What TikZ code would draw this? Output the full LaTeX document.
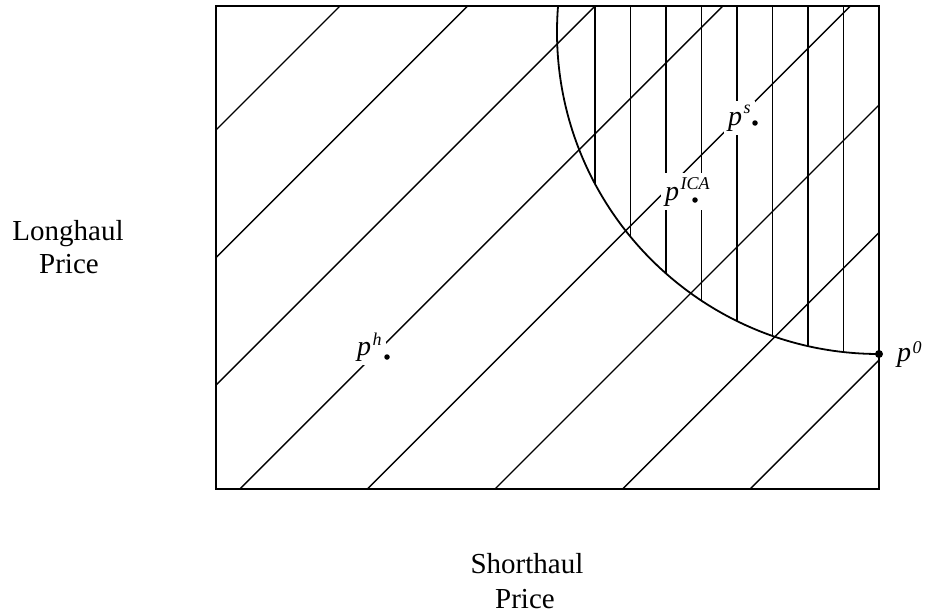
\documentclass[tikz,border=0pt]{standalone}
\usepackage{fontspec}
\setmainfont{Liberation Serif}
\newcommand\mysup[2]{\kern1.5pt\raisebox{#1pt}{\fontsize{18}{18}\selectfont\textit{#2}}}
\begin{document}
\begin{tikzpicture}[x=1pt,y=-1pt,
  hatch/.style={line width=1.4pt},
  vhatch/.style={line width=1.2pt},
  frame/.style={line width=1.8pt},
  curve/.style={line width=1.8pt},
  axislabel/.style={font=\fontsize{29}{33}\selectfont, inner sep=0pt, anchor=base},
  plabel/.style={fill=white, inner sep=4pt, anchor=base west, font=\fontsize{28}{28}\selectfont},
  pdot/.style={circle, fill=black, inner sep=0pt, minimum size=5.5pt}]
\useasboundingbox (0,0) rectangle (930,616);
\coordinate (bl) at (216,489);
\coordinate (tr) at (879,6);
\coordinate (cc) at (879,32);
% diagonal hatching
\begin{scope}
  \clip (bl) rectangle (tr);
  \foreach \k in {0,...,7} {
    \pgfmathsetmacro\c{346+127.6*\k}
    \draw[hatch] (\c-489,489) -- (\c-6,6);
  }
\end{scope}
% vertical hatching
\begin{scope}
  \clip (bl) rectangle (tr);
  \clip (cc) circle[radius=322pt];
  \foreach \k in {0,...,7} {
    \draw[vhatch] ({595+35.5*\k},6) -- ({595+35.5*\k},489);
  }
\end{scope}
% curve
\begin{scope}
  \clip (bl) rectangle (tr);
  \draw[curve] (cc) circle[radius=322pt];
\end{scope}
% frame
\draw[frame] (bl) rectangle (tr);
% labels
\node[plabel] (ph) at (353,355) {\textit{p}\mysup{10}{h}};
\node[plabel] (ps) at (724,125) {\textit{p}\mysup{12}{s}};
\node[plabel] (pica) at (661,200) {\textit{p}\mysup{11}{ICA}};
\node[plabel, fill=none] (p0) at (893,361) {\textit{p}\mysup{8}{0}};
\node[pdot] (dh) at (387,357) {};
\node[pdot] (ds) at (755,123) {};
\node[pdot] (dica) at (695,200) {};
\node[pdot, minimum size=8pt] (d0) at (879,354) {};
% axis labels
\node[axislabel] (lh) at (68,240) {Longhaul};
\node[axislabel] (lp) at (69,273) {Price};
\node[axislabel] (sh) at (527,573) {Shorthaul};
\node[axislabel] (sp) at (525,608) {Price};
\end{tikzpicture}
\end{document}
